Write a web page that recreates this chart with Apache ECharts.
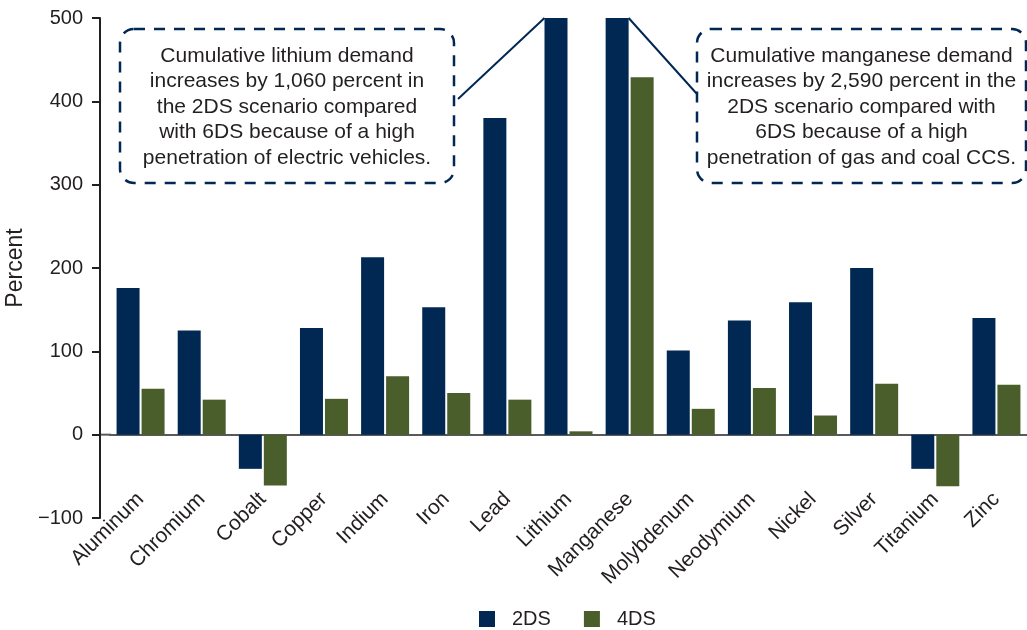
<!DOCTYPE html>
<html>
<head>
<meta charset="utf-8">
<script src="https://cdn.jsdelivr.net/npm/echarts@6/dist/echarts.min.js"></script>
<style>
  html, body { margin: 0; padding: 0; background: #fff; }
  #main { width: 1027px; height: 630px; }
</style>
</head>
<body>
<div id="main"></div>
<script>
// metals on the x axis
const categories = ["Aluminum", "Chromium", "Cobalt", "Copper", "Indium", "Iron", "Lead", "Lithium",
  "Manganese", "Molybdenum", "Neodymium", "Nickel", "Silver", "Titanium", "Zinc"];
// percent change vs 6DS (lithium and manganese run off the top of the axis)
const values2DS = [176, 125, -41, 128, 213, 153, 380, 1060, 2590, 101, 137, 159, 200, -41, 140];
const values4DS = [55, 42, -61, 43, 70, 50, 42, 4, 429, 31, 56, 23, 61, -62, 60];

const lithiumNote = [
  "Cumulative lithium demand",
  "increases by 1,060 percent in",
  "the 2DS scenario compared",
  "with 6DS because of a high",
  "penetration of electric vehicles."
];
const manganeseNote = [
  "Cumulative manganese demand",
  "increases by 2,590 percent in the",
  "2DS scenario compared with",
  "6DS because of a high",
  "penetration of gas and coal CCS."
];

const NAVY = "#012853";
const GREEN = "#4a5e2b";
const TEXT = "#231f20";
const FONT = "'Liberation Sans', Arial, Helvetica, sans-serif";
const BAR_W = 23;
const BAR_GAP = 2;

const chart = echarts.init(document.getElementById("main"));

function noteBox(x, y, w, h, lines) {
  return [
    {
      type: "rect",
      shape: { x: x, y: y, width: w, height: h, r: 14 },
      style: { fill: null, stroke: NAVY, lineWidth: 2.5, lineDash: [11, 9] },
      z: 10,
    },
    {
      type: "text",
      x: x + w / 2,
      y: y + h / 2 + 1,
      style: {
        text: lines.join("\n"),
        fill: TEXT,
        font: "21px " + FONT,
        lineHeight: 25.5,
        align: "center",
        verticalAlign: "middle",
      },
      z: 10,
    },
  ];
}

const option = {
  animation: false,
  textStyle: { fontFamily: FONT },
  grid: { left: 110, right: 0, top: 18, bottom: 112, outerBoundsMode: "none" },
  legend: {
    left: 474,
    top: 604,
    itemWidth: 16,
    itemHeight: 16,
    itemGap: 33,
    icon: "rect",
    textStyle: { fontSize: 20, color: TEXT, fontFamily: FONT, padding: [0, 0, 0, 12] },
    data: ["2DS", "4DS"],
  },
  xAxis: {
    type: "category",
    data: categories,
    axisLine: { onZero: true, lineStyle: { color: "#58595b", width: 2 } },
    axisTick: { show: false },
    axisLabel: {
      rotate: 45,
      interval: 0,
      margin: -22,
      fontSize: 21,
      color: TEXT,
      fontFamily: FONT,
    },
  },
  yAxis: {
    type: "value",
    min: -100,
    max: 500,
    interval: 100,
    offset: 10,
    name: "Percent",
    nameLocation: "middle",
    nameGap: 72,
    nameTextStyle: { fontSize: 23, color: TEXT, fontFamily: FONT },
    axisLine: { show: true, onZero: false, lineStyle: { color: TEXT, width: 2 } },
    axisTick: { show: true, length: 8, lineStyle: { color: TEXT, width: 2 } },
    splitLine: { show: false },
    axisLabel: {
      fontSize: 20,
      color: TEXT,
      fontFamily: FONT,
      margin: 17,
      formatter: function (v) {
        return String(v).replace("-", "\u2212");
      },
    },
  },
  series: [
    {
      name: "2DS",
      type: "bar",
      data: values2DS,
      barWidth: BAR_W,
      barGap: (BAR_GAP / BAR_W) * 100 + "%",
      itemStyle: { color: NAVY },
      clip: true,
    },
    {
      name: "4DS",
      type: "bar",
      data: values4DS,
      barWidth: BAR_W,
      itemStyle: { color: GREEN },
      clip: true,
    },
  ],
};

chart.setOption(option);

// callout boxes and the leader lines to the clipped bars
const leftBox = { x: 120, y: 29, w: 334, h: 154 };
const rightBox = { x: 697, y: 29, w: 329, h: 154 };
const li = chart.convertToPixel({ xAxisIndex: 0, yAxisIndex: 0 }, ["Lithium", 500]);
const mn = chart.convertToPixel({ xAxisIndex: 0, yAxisIndex: 0 }, ["Manganese", 500]);
const zero = chart.convertToPixel({ xAxisIndex: 0, yAxisIndex: 0 }, ["Aluminum", 0]);

chart.setOption({
  graphic: [
    ...noteBox(leftBox.x, leftBox.y, leftBox.w, leftBox.h, lithiumNote),
    ...noteBox(rightBox.x, rightBox.y, rightBox.w, rightBox.h, manganeseNote),
    {
      type: "line",
      shape: { x1: leftBox.x + leftBox.w + 4, y1: 99, x2: li[0] - BAR_W - BAR_GAP / 2, y2: li[1] },
      style: { stroke: NAVY, lineWidth: 2 },
      z: 10,
    },
    {
      type: "line",
      shape: { x1: mn[0] - BAR_GAP / 2, y1: mn[1], x2: rightBox.x, y2: 94 },
      style: { stroke: NAVY, lineWidth: 2 },
      z: 10,
    },
    {
      // zero line continues back to the offset y axis
      type: "line",
      shape: { x1: 100, y1: zero[1], x2: 111, y2: zero[1] },
      style: { stroke: "#58595b", lineWidth: 2 },
    },
  ],
});
</script>
</body>
</html>
